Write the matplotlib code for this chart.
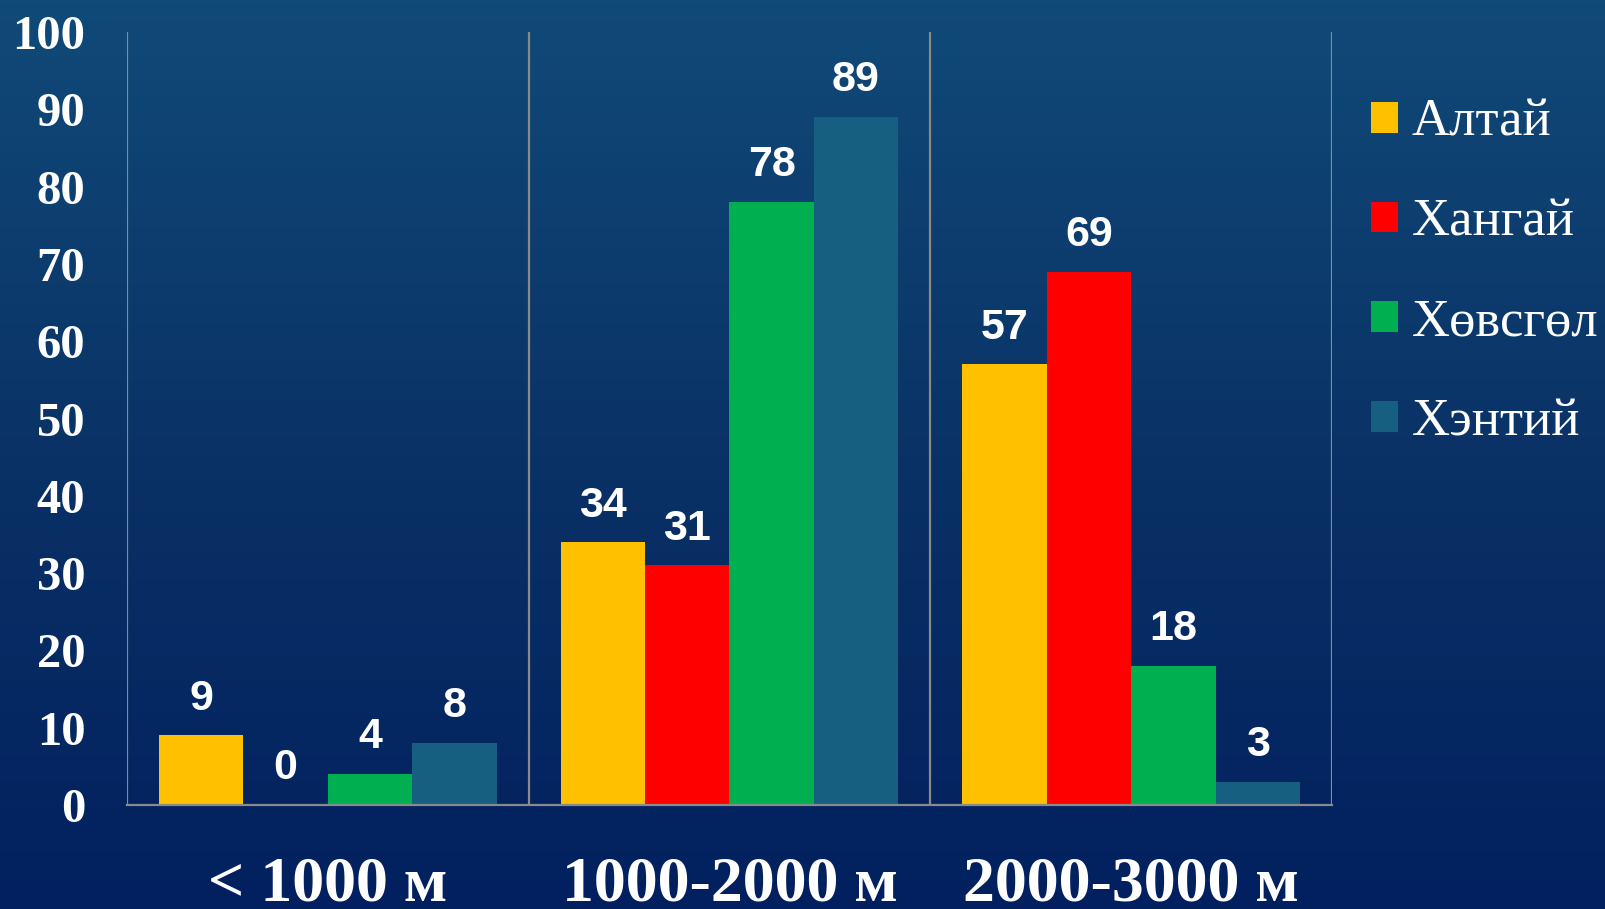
import numpy as np
import matplotlib
matplotlib.use("Agg")
import matplotlib.pyplot as plt
from matplotlib.colors import LinearSegmentedColormap

categories = ["< 1000 м", "1000-2000 м", "2000-3000 м"]
series_names = ["Алтай", "Хангай", "Хөвсгөл", "Хэнтий"]
altai = [9, 34, 57]
khangai = [0, 31, 69]
khuvsgul = [4, 78, 18]
khentii = [8, 89, 3]
y_ticks = [0, 10, 20, 30, 40, 50, 60, 70, 80, 90, 100]

colors = ["#FFC000", "#FF0000", "#00B050", "#175F80"]
series = [altai, khangai, khuvsgul, khentii]

W, H = 1606, 909
fig = plt.figure(figsize=(W / 100, H / 100), dpi=100)

# gradient background
bg = fig.add_axes([0, 0, 1, 1], zorder=-10)
cmap = LinearSegmentedColormap.from_list("bg", ["#104a78", "#0a3266", "#02205f"])
grad = np.linspace(0, 1, 256).reshape(-1, 1)
bg.imshow(grad, aspect="auto", cmap=cmap, extent=[0, 1, 0, 1], origin="upper")
bg.axis("off")

ax = fig.add_axes([127 / W, 104 / H, (1332 - 127) / W, (805 - 32) / H])
ax.set_facecolor("none")

serif = ["Liberation Serif", "DejaVu Serif"]
sans = ["Liberation Sans", "DejaVu Sans"]

x = np.arange(len(categories))
w = 0.21
offsets = [-1.5 * w, -0.5 * w, 0.5 * w, 1.5 * w]
for vals, name, col, off in zip(series, series_names, colors, offsets):
    bars = ax.bar(x + off, vals, width=w, color=col, label=name, zorder=3)
    ax.bar_label(bars, padding=12, color="white", fontsize=31,
                 fontweight="bold", family=sans)

ax.set_xlim(-0.5, len(categories) - 0.5)
ax.set_ylim(0, 100)
for xv in np.arange(-0.5, len(categories), 1.0):
    ax.axvline(xv, color="#8a8a8a", lw=1.6, zorder=2)

for s in ["top", "left", "right"]:
    ax.spines[s].set_visible(False)
ax.spines["bottom"].set_color("#8a8a8a")
ax.spines["bottom"].set_linewidth(1.6)
ax.spines["bottom"].set_zorder(4)

ax.set_yticks(y_ticks)
ax.set_yticklabels([str(t) for t in y_ticks], family=serif, fontweight="bold",
                   fontsize=35, color="white")
ax.tick_params(axis="y", length=0, pad=30)
ax.set_xticks(x)
ax.set_xticklabels(categories, family=serif, fontweight="bold",
                   fontsize=46, color="white")
ax.tick_params(axis="x", length=0, pad=37)

leg = ax.legend(loc="upper left", bbox_to_anchor=(1371 / W, 1 - 99 / H),
                bbox_transform=fig.transFigure, frameon=False,
                prop={"family": serif, "size": 38}, labelcolor="white",
                handlelength=0.52, handleheight=0.52, handletextpad=0.25,
                labelspacing=0.98, borderaxespad=0, borderpad=0)

fig.savefig("out.png", dpi=100)
